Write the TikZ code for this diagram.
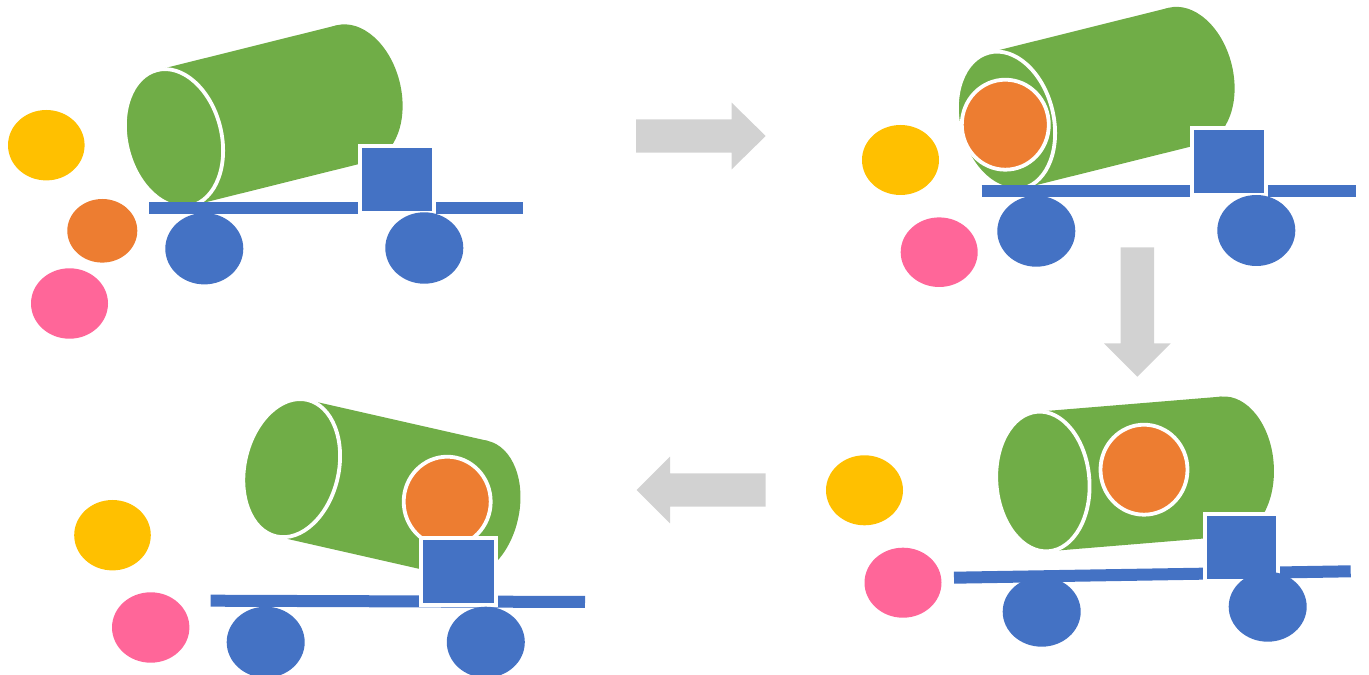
\documentclass[tikz,border=0pt]{standalone}
\usepackage{tikz}
\definecolor{tankgreen}{RGB}{112,173,71}
\definecolor{truckblue}{RGB}{68,114,196}
\definecolor{ballorange}{RGB}{237,125,49}
\definecolor{ballyellow}{RGB}{255,192,0}
\definecolor{ballpink}{RGB}{255,102,153}
\definecolor{arrowgray}{RGB}{210,210,210}

\begin{document}
\begin{tikzpicture}[x=0.1mm,y=0.1mm]
\tikzstyle{rim}=[draw=white,line width=0.38mm]
\tikzstyle{bar}=[truckblue,line width=1.2mm]
\tikzstyle{wheel}=[fill=truckblue]
\useasboundingbox (0,0) rectangle (1369,-675);
% step 1: ball lying next to the truck
\fill [ballyellow] (46.3,-145.2) ellipse [x radius=38.3,y radius=35.2];
\fill [ballorange] (102.3,-230.8) ellipse [x radius=35,y radius=31.8];
\fill [ballpink] (69.5,-303.5) ellipse [x radius=38.5,y radius=35.2];
\begin{scope}[shift={(174,-138)},rotate=14]
\fill [tankgreen] (0,-70) rectangle (185,70);
\fill [tankgreen] (185,0) ellipse [x radius=47.5,y radius=70];
\draw [rim,fill=tankgreen] (0,0) ellipse [x radius=47.5,y radius=70];
\end{scope}
\draw [bar] (149.3,-208.5) -- (523,-208.5);
\draw [rim,fill=truckblue] (359.7,-145.7) rectangle (433.7,-213);
\fill [wheel] (204.3,-248.7) ellipse [x radius=39,y radius=35.7];
\fill [wheel] (424.3,-248) ellipse [x radius=39,y radius=35.7];
% step 2: ball at the mouth of the tank
\fill [ballyellow] (900.5,-160) ellipse [x radius=38.5,y radius=35];
\fill [ballpink] (939.2,-252.2) ellipse [x radius=38.5,y radius=34.8];
\begin{scope}[shift={(1006,-120.5)},rotate=14]
\fill [tankgreen] (0,-70) rectangle (185,70);
\fill [tankgreen] (185,0) ellipse [x radius=47.5,y radius=70];
\draw [rim,fill=tankgreen] (0,0) ellipse [x radius=47.5,y radius=70];
\end{scope}
\draw [rim,fill=ballorange] (1005.3,-124.7) ellipse [x radius=43.5,y radius=45];
\draw [bar] (981.7,-191) -- (1356,-191);
\draw [rim,fill=truckblue] (1191.7,-128) rectangle (1266,-195.3);
\fill [wheel] (1036.3,-231.2) ellipse [x radius=39,y radius=35.5];
\fill [wheel] (1256.3,-230.5) ellipse [x radius=39,y radius=35.5];
% step 3: ball rolls into the tank
\fill [ballyellow] (864.5,-490.3) ellipse [x radius=38.5,y radius=35];
\fill [ballpink] (903,-582.7) ellipse [x radius=38.5,y radius=35];
\begin{scope}[shift={(1042.9,-481.5)},rotate=4.7]
\fill [tankgreen] (0,-70) rectangle (185,70);
\fill [tankgreen] (185,0) ellipse [x radius=46.5,y radius=70];
\draw [rim,fill=tankgreen] (0,0) ellipse [x radius=46.5,y radius=70];
\end{scope}
\draw [rim,fill=ballorange] (1144,-469.7) ellipse [x radius=43.5,y radius=45];
\draw [bar] (954,-577.7) -- (1350.7,-571.3);
\draw [rim,fill=truckblue] (1204.7,-514.3) rectangle (1278.3,-581.3);
\fill [wheel] (1041.7,-611.7) ellipse [x radius=39,y radius=35];
\fill [wheel] (1267.7,-606.7) ellipse [x radius=39,y radius=35];
% step 4: tank tipped back, ball at the bottom
\fill [ballyellow] (112.5,-535.2) ellipse [x radius=38.3,y radius=35.2];
\fill [ballpink] (150.7,-627.5) ellipse [x radius=38.7,y radius=35.2];
\begin{scope}[shift={(291.7,-468.1)},rotate=-12.8]
\fill [tankgreen] (0,-70) rectangle (185,70);
\fill [tankgreen] (185,0) ellipse [x radius=47,y radius=70];
\draw [rim,fill=tankgreen] (0,0) ellipse [x radius=47,y radius=70];
\end{scope}
\draw [rim,fill=ballorange] (447.2,-501.7) ellipse [x radius=43.5,y radius=45];
\draw [bar] (210.7,-600.7) -- (585,-602);
\draw [rim,fill=truckblue] (420.7,-538) rectangle (495.7,-605.3);
\fill [wheel] (265.7,-642.2) ellipse [x radius=39,y radius=35.5];
\fill [wheel] (485.8,-642.2) ellipse [x radius=39,y radius=35.5];
% arrows between the steps
\fill [arrowgray] (636,-119.3) -- (731.7,-119.3) -- (731.7,-102.7) -- (765.7,-136) -- (731.7,-169.3) -- (731.7,-152.7) -- (636,-152.7) -- cycle;
\fill [arrowgray] (1120.7,-247.3) -- (1154,-247.3) -- (1154,-343.3) -- (1170.7,-343.3) -- (1137.3,-376.7) -- (1104,-343.3) -- (1120.7,-343.3) -- cycle;
\fill [arrowgray] (765.7,-473.3) -- (670,-473.3) -- (670,-456.7) -- (636.7,-490) -- (670,-523.3) -- (670,-506.7) -- (765.7,-506.7) -- cycle;
\end{tikzpicture}
\end{document}
